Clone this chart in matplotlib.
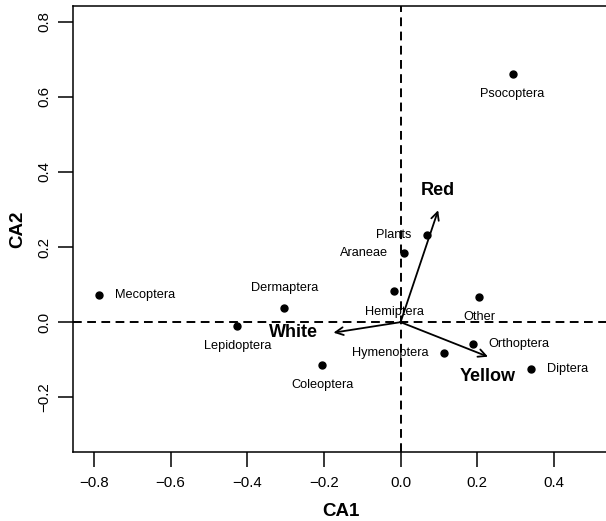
import matplotlib.pyplot as plt

plt.rcParams['font.family'] = ['Liberation Sans', 'DejaVu Sans']

# taxa scores on CA1 / CA2
taxa = ['Psocoptera', 'Plants', 'Araneae', 'Hemiptera', 'Mecoptera', 'Dermaptera',
        'Lepidoptera', 'Coleoptera', 'Hymenoptera', 'Orthoptera', 'Diptera', 'Other']
ca1 = [0.292, 0.070, 0.009, -0.017, -0.786, -0.303, -0.426, -0.205, 0.113, 0.188, 0.340, 0.205]
ca2 = [0.662, 0.233, 0.184, 0.082, 0.073, 0.037, -0.009, -0.115, -0.082, -0.057, -0.124, 0.068]
taxa_pos = ['below', 'left', 'left', 'below', 'right', 'above',
            'below', 'below', 'left', 'right', 'right', 'below']

# trap colour arrows
colours = ['Red', 'White', 'Yellow']
col_ca1 = [0.098, -0.175, 0.228]
col_ca2 = [0.298, -0.028, -0.092]
col_pos = ['above', 'left', 'below']

xticks = [-0.8, -0.6, -0.4, -0.2, 0.0, 0.2, 0.4]
yticks = [-0.2, 0.0, 0.2, 0.4, 0.6, 0.8]

# offsets (points) and alignment for R-style pos
offsets = {'below': ((0, -14.5), 'center', 'center'),
           'above': ((0, 14.5), 'center', 'center'),
           'left': ((-11.3, 0), 'right', 'center'),
           'right': ((11.3, 0), 'left', 'center')}

fig = plt.figure(figsize=(6.06, 5.21), dpi=100)
ax = fig.add_axes([0.1208, 0.133, 0.885, 0.8555])

ax.axhline(0, color='black', lw=1.4, dashes=(4.5, 2.8), zorder=1)
ax.axvline(0, color='black', lw=1.4, dashes=(4.5, 2.8), zorder=1)

ax.plot(ca1, ca2, 'o', color='black', markersize=5, zorder=3)
for name, x, y, p in zip(taxa, ca1, ca2, taxa_pos):
    off, ha, va = offsets[p]
    ax.annotate(name, (x, y), xytext=off, textcoords='offset points',
                ha=ha, va=va, fontsize=9.2)

for name, x, y, p in zip(colours, col_ca1, col_ca2, col_pos):
    ax.annotate('', xy=(x, y), xytext=(0, 0),
                arrowprops=dict(arrowstyle='->', lw=1.3, color='black',
                                mutation_scale=14, shrinkA=0, shrinkB=0))
    off, ha, va = offsets[p]
    ax.annotate(name, (x, y), xytext=off, textcoords='offset points',
                ha=ha, va=va, fontsize=13, fontweight='bold')

ax.set_xlim(-0.854, 0.545)
ax.set_ylim(-0.345, 0.842)
ax.set_xticks(xticks)
ax.set_yticks(yticks)
ax.set_xticklabels(['\u2212%.1f' % abs(v) if v < 0 else '%.1f' % v for v in xticks])
ax.set_yticklabels(['\u2212%.1f' % abs(v) if v < 0 else '%.1f' % v for v in yticks],
                   rotation=90, va='center')
ax.tick_params(direction='out', length=10.5, width=1.1, labelsize=10.8)
ax.tick_params(axis='x', pad=7)
ax.tick_params(axis='y', pad=5)
for s in ax.spines.values():
    s.set_linewidth(1.1)

ax.set_xlabel('CA1', fontsize=13.5, fontweight='bold', labelpad=9)
ax.set_ylabel('CA2', fontsize=13.5, fontweight='bold', labelpad=8)

fig.savefig('out.png', dpi=100)
